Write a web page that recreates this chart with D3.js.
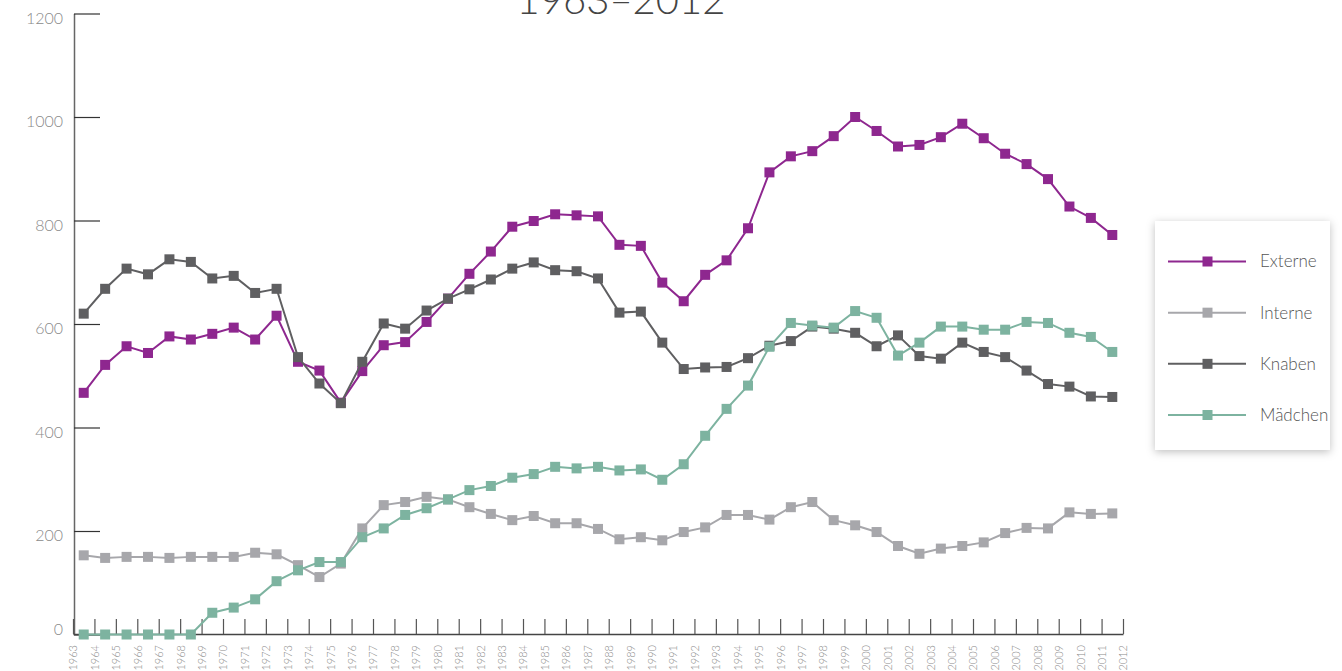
<!DOCTYPE html>
<html>
<head>
<meta charset="utf-8">
<script src="https://cdn.jsdelivr.net/npm/d3@7/dist/d3.min.js"></script>
<style>
  html, body { margin: 0; padding: 0; background: #fff; }
  svg { display: block; font-family: "Lato", "Roboto", sans-serif; font-weight: 300; }
</style>
</head>
<body>
<svg id="chart" width="1342" height="671"></svg>
<script>
// ---- data ----
const tickYears = [1963,1964,1965,1966,1967,1968,1969,1970,1971,1972,1973,1974,1975,1976,1977,1978,1979,1980,1981,1982,1983,1984,1985,1986,1987,1988,1989,1990,1991,1992,1993,1994,1995,1996,1997,1998,1999,2000,2001,2002,2003,2004,2005,2006,2007,2008,2009,2010,2011,2012];
// school years start (value plotted between year and year+1)
const schoolYears = [1963,1964,1965,1966,1967,1968,1969,1970,1971,1972,1973,1974,1975,1976,1977,1978,1979,1980,1981,1982,1983,1984,1985,1986,1987,1988,1989,1990,1991,1992,1993,1994,1995,1996,1997,1998,1999,2000,2001,2002,2003,2004,2005,2006,2007,2008,2009,2010,2011];
const externe = [467,521,557,544,576,570,581,593,570,616,527,510,448,509,559,565,604,649,697,740,788,799,812,810,808,753,751,680,644,695,723,785,893,924,934,963,1000,973,943,946,961,987,959,929,909,880,827,805,772];
const interne = [153,148,150,150,148,150,150,150,158,155,134,111,137,205,250,256,266,261,246,233,221,229,215,215,204,184,188,182,198,207,231,231,222,246,256,221,211,198,171,156,166,171,178,196,206,205,236,233,234];
const knaben  = [620,668,707,696,725,720,688,693,660,668,536,485,447,527,601,591,626,649,667,686,707,719,704,702,688,622,624,564,513,516,517,534,558,567,595,591,583,557,578,538,533,564,546,536,510,484,479,460,459];
const maedchen = [0,0,0,0,0,0,42,52,68,103,124,140,140,188,205,231,244,261,279,287,303,310,324,321,324,317,319,299,329,384,436,481,556,602,597,593,625,612,539,564,595,595,589,589,604,602,583,575,546];
const yTicks = [0,200,400,600,800,1000,1200];
const seriesNames = ["Externe","Interne","Knaben","Mädchen"];
const seriesColors = ["#8e278f","#a7a7ab","#5f5f61","#7db3a0"];
const seriesValues = [externe, interne, knaben, maedchen];
const titleText = "1963–2012";

// ---- chart ----
const svg = d3.select("#chart");
const x = d3.scaleLinear().domain([1963, 2012]).range([73, 1123]);
const y = d3.scaleLinear().domain([0, 1200]).range([634.5, 13.5]);

// title (partly cut at the top, as in the reference)
svg.append("text")
  .attr("x", 621).attr("y", 14)
  .attr("text-anchor", "middle")
  .attr("fill", "#444")
  .style("font-size", "40px")
  .style("font-weight", "300")
  .text(titleText);

// y axis
const yAxis = svg.append("g")
  .attr("transform", "translate(74,0)")
  .call(d3.axisLeft(y).tickValues(yTicks).tickFormat(d3.format("d")).tickSize(-26).tickSizeOuter(0).tickPadding(11));
yAxis.select(".domain").attr("stroke", "#666").attr("stroke-width", 1.5);
yAxis.selectAll(".tick line").attr("stroke", "#333").attr("stroke-width", 1.2);
yAxis.selectAll(".tick text")
  .attr("fill", "#8a8a8a")
  .style("font-family", "Lato, Roboto, sans-serif")
  .style("font-weight", "300")
  .style("font-size", "16px")
  .attr("dy", d => d === 0 ? "0em" : "0.6em");

// x axis
const xAxis = svg.append("g")
  .attr("transform", "translate(0,634)")
  .call(d3.axisBottom(x).tickValues(tickYears).tickFormat(d3.format("d")).tickSize(-15).tickSizeOuter(0));
xAxis.select(".domain").attr("stroke", "#444").attr("stroke-width", 1.5);
xAxis.selectAll(".tick line").attr("stroke", "#555").attr("stroke-width", 1.2);
xAxis.selectAll(".tick text")
  .attr("transform", "rotate(-90)")
  .attr("x", -11).attr("y", 0).attr("dy", "0.35em")
  .style("text-anchor", "end")
  .style("font-family", "Lato, Roboto, sans-serif")
  .style("font-weight", "300")
  .style("font-size", "11px")
  .attr("fill", "#8a8a8a");

// lines & markers
const line = d3.line()
  .x((d, i) => x(schoolYears[i] + 0.5))
  .y(d => y(d));

const ms = 10;
seriesValues.forEach((vals, s) => {
  const g = svg.append("g");
  g.append("path")
    .datum(vals)
    .attr("d", line)
    .attr("fill", "none")
    .attr("stroke", seriesColors[s])
    .attr("stroke-width", 2);
  g.selectAll("rect")
    .data(vals)
    .enter().append("rect")
    .attr("x", (d, i) => x(schoolYears[i] + 0.5) - ms / 2)
    .attr("y", d => y(d) - ms / 2)
    .attr("width", ms).attr("height", ms)
    .attr("fill", seriesColors[s]);
});

// legend
const defs = svg.append("defs");
const filt = defs.append("filter").attr("id", "shadow")
  .attr("x", "-20%").attr("y", "-20%").attr("width", "140%").attr("height", "140%");
filt.append("feDropShadow").attr("dx", 0).attr("dy", 2).attr("stdDeviation", 4)
  .attr("flood-color", "#000").attr("flood-opacity", 0.25);

const lg = svg.append("g");
lg.append("rect")
  .attr("x", 1155).attr("y", 221).attr("width", 175).attr("height", 229)
  .attr("fill", "#fff").attr("filter", "url(#shadow)");
const rowY = d3.scalePoint().domain(seriesNames).range([261.5, 415]);
seriesNames.forEach((name, s) => {
  const yy = rowY(name);
  lg.append("line")
    .attr("x1", 1168).attr("x2", 1246).attr("y1", yy).attr("y2", yy)
    .attr("stroke", seriesColors[s]).attr("stroke-width", 2);
  lg.append("rect")
    .attr("x", 1207.5 - ms / 2).attr("y", yy - ms / 2)
    .attr("width", ms).attr("height", ms)
    .attr("fill", seriesColors[s]);
  lg.append("text")
    .attr("x", 1260).attr("y", yy).attr("dy", "0.35em")
    .attr("fill", "#555")
    .style("font-size", "17px")
    .text(name);
});
</script>
</body>
</html>
